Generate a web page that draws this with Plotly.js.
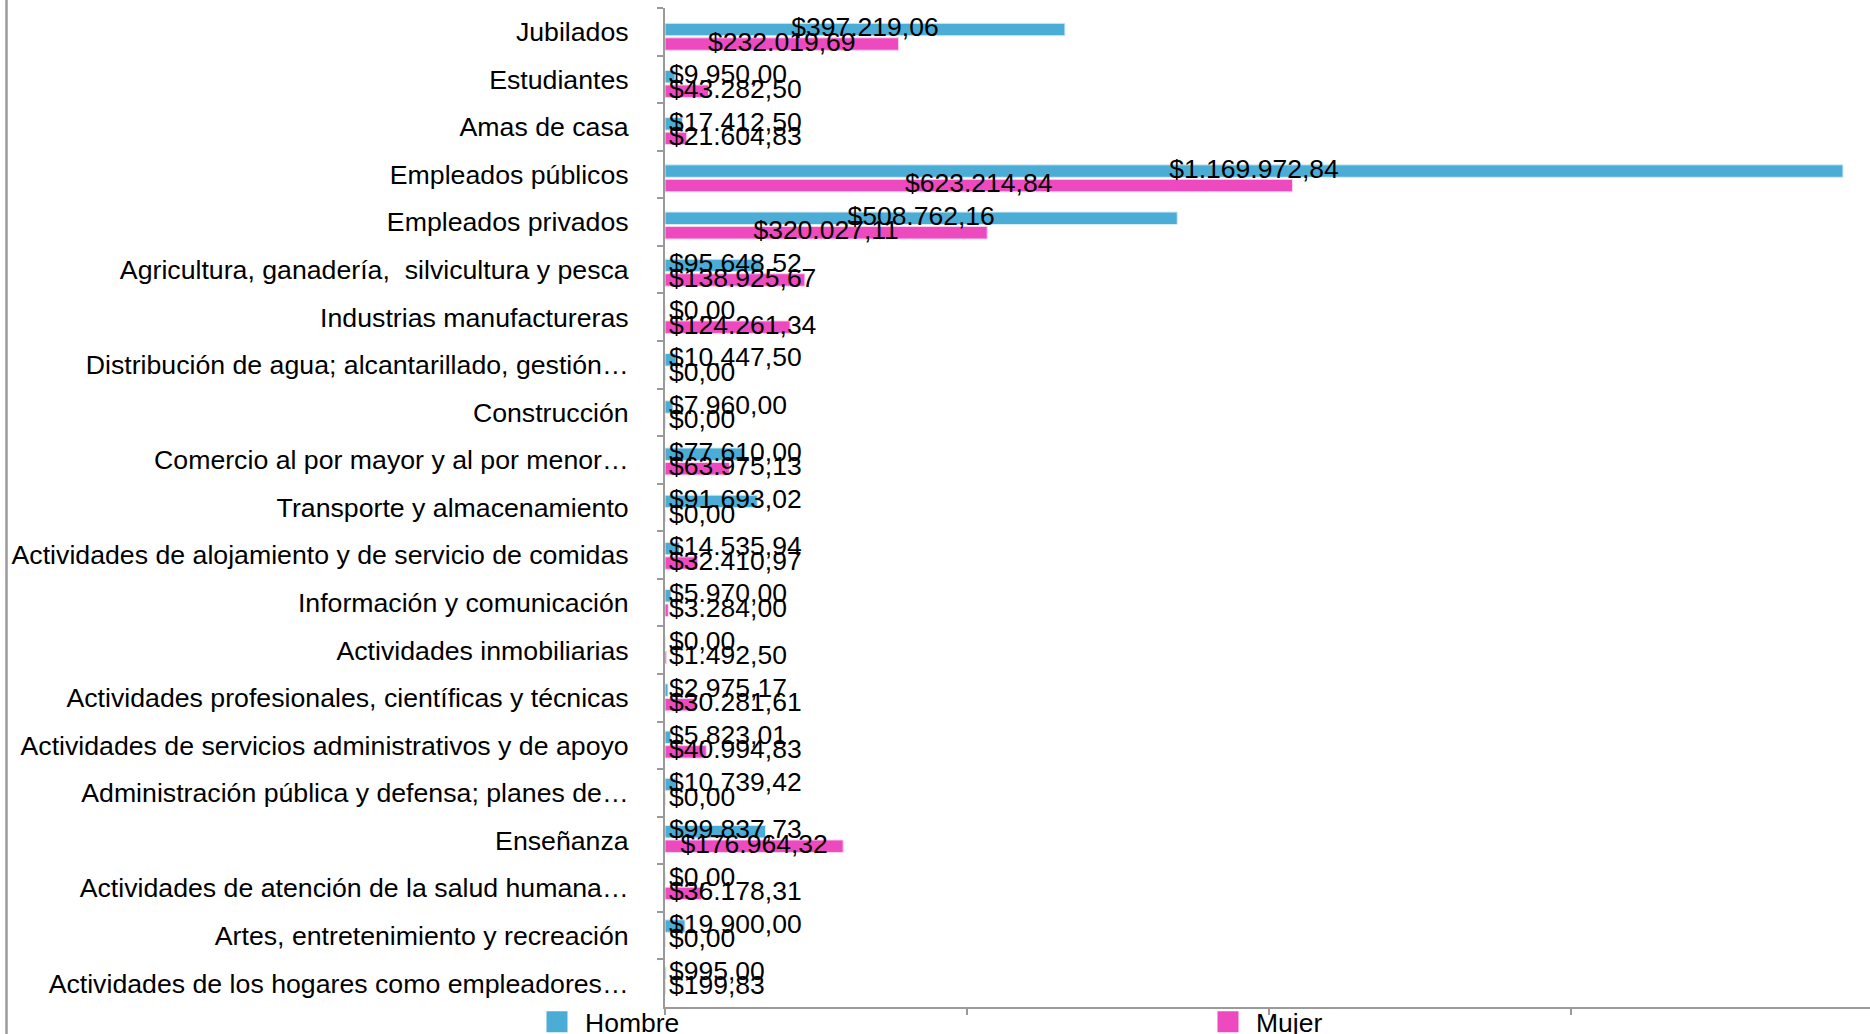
<!DOCTYPE html>
<html><head><meta charset="utf-8">
<script src="https://cdn.plot.ly/plotly-3.0.1.min.js"></script>
<style>html,body{margin:0;padding:0;background:#fff;overflow:hidden;} #chart{width:1870px;height:1034px;}</style>
</head><body><div id="chart"></div>
<script>
const categories = [
  'Jubilados',
  'Estudiantes',
  'Amas de casa',
  'Empleados públicos',
  'Empleados privados',
  'Agricultura, ganadería,  silvicultura y pesca',
  'Industrias manufactureras',
  'Distribución de agua; alcantarillado, gestión…',
  'Construcción',
  'Comercio al por mayor y al por menor…',
  'Transporte y almacenamiento',
  'Actividades de alojamiento y de servicio de comidas',
  'Información y comunicación',
  'Actividades inmobiliarias',
  'Actividades profesionales, científicas y técnicas',
  'Actividades de servicios administrativos y de apoyo',
  'Administración pública y defensa; planes de…',
  'Enseñanza',
  'Actividades de atención de la salud humana…',
  'Artes, entretenimiento y recreación',
  'Actividades de los hogares como empleadores…'
];
const hombre = [397219.06, 9950.00, 17412.50, 1169972.84, 508762.16, 95648.52, 0, 10447.50, 7960.00, 77610.00, 91693.02, 14535.94, 5970.00, 0, 2975.17, 5823.01, 10739.42, 99837.73, 0, 19900.00, 995.00];
const mujer = [232019.69, 43282.50, 21604.83, 623214.84, 320027.11, 138925.67, 124261.34, 0, 0, 63975.13, 0, 32410.97, 3284.00, 1492.50, 30281.61, 40994.83, 0, 176964.32, 36178.31, 0, 199.83];
const seriesNames = ['Hombre', 'Mujer'];
const xTickValues = [0, 300000, 600000, 900000, 1200000];

const W = 1870, H = 1034;
const M = {l: 665, r: 0, t: 8, b: 27};
const X_MAX = 1196800;
const BARGAP = 0.385, GROUPGAP = 0.14;
const BAR_RANGE = [20.561, -0.6096];
const FONT = '"Liberation Sans", Arial, Helvetica, sans-serif';
const FS = 26.5, FS_CAT = 26.7;
const COLORS = ['#4BACD6', '#EE4ABF'];
const EDGE = ['#d6edf7', '#fbd3ef'];
const AXIS = '#9a9a9a';

function fmt(v) {
  const parts = v.toFixed(2).split('.');
  return '$' + parts[0].replace(/\B(?=(\d{3})+(?!\d))/g, '.') + ',' + parts[1];
}

const ctx = document.createElement('canvas').getContext('2d');
ctx.font = FS + 'px "Liberation Sans"';
const pxPerUnit = (W - M.l - M.r) / X_MAX;
function labelX(v) {
  const tw = ctx.measureText(fmt(v)).width;
  return Math.max(v * pxPerUnit / 2, tw / 2 + 4) / pxPerUnit;
}

const n = categories.length;
const idx = categories.map((c, i) => i);
const slot = (1 - BARGAP) / 2;
const series = [hombre, mujer];

const traces = [];
series.forEach((vals, k) => {
  traces.push({
    type: 'bar', orientation: 'h', y: categories, x: vals, name: seriesNames[k],
    marker: {color: COLORS[k], line: {color: EDGE[k], width: 1}},
    showlegend: false, hoverinfo: 'skip'
  });
});
series.forEach((vals, k) => {
  traces.push({
    type: 'scatter', mode: 'text', yaxis: 'y3',
    x: vals.map(labelX), y: idx.map(i => i + (k - 0.5) * slot),
    text: vals.map(fmt), textposition: 'middle center',
    textfont: {family: FONT, size: FS, color: '#000'},
    cliponaxis: false, showlegend: false, hoverinfo: 'skip'
  });
});
// legend entries; they also carry the category list for the labelled axis
series.forEach((vals, k) => {
  traces.push({
    type: 'scatter', mode: 'markers', yaxis: 'y2',
    x: categories.map(() => null), y: categories,
    name: seriesNames[k],
    marker: {symbol: 'square', size: 16, color: COLORS[k], line: {color: COLORS[k], width: 5}},
    showlegend: true, hoverinfo: 'skip'
  });
});

const layout = {
  width: W, height: H,
  margin: {l: M.l, r: M.r, t: M.t, b: M.b, autoexpand: false},
  paper_bgcolor: '#fff', plot_bgcolor: '#fff',
  font: {family: FONT, size: FS, color: '#000'},
  barmode: 'group', bargap: BARGAP, bargroupgap: GROUPGAP,
  showlegend: true,
  legend: {
    orientation: 'h', x: (529 - 665) / 1205, xanchor: 'left', y: -0.015, yanchor: 'middle',
    font: {family: FONT, size: FS, color: '#000'},
    entrywidth: 610, entrywidthmode: 'pixels', itemsizing: 'trace', itemwidth: 46,
    bgcolor: 'rgba(0,0,0,0)', borderwidth: 0
  },
  xaxis: {
    range: [0, X_MAX], tickvals: xTickValues, ticks: 'outside', ticklen: 6, tickwidth: 2,
    tickcolor: AXIS, showticklabels: false, showline: true, linecolor: AXIS, linewidth: 2,
    showgrid: false, zeroline: false, fixedrange: true
  },
  yaxis: {
    type: 'category', categoryorder: 'array', categoryarray: categories,
    range: BAR_RANGE, visible: false, fixedrange: true
  },
  yaxis2: {
    type: 'category', overlaying: 'y', side: 'left', categoryorder: 'array', categoryarray: categories,
    range: [n - 0.5, -0.5], tickson: 'boundaries', ticks: 'outside',
    ticklen: 6, tickwidth: 2, tickcolor: AXIS, showline: true, linecolor: AXIS, linewidth: 2,
    showgrid: false, zeroline: false, tickfont: {family: FONT, size: FS_CAT, color: '#000'},
    ticklabelstandoff: 29, fixedrange: true
  },
  yaxis3: {overlaying: 'y', range: BAR_RANGE, visible: false, fixedrange: true},
  shapes: [{
    type: 'line', xref: 'paper', yref: 'paper', xsizemode: 'pixel', xanchor: 0,
    x0: -658.5, x1: -658.5, y0: -0.1, y1: 1.1, line: {color: AXIS, width: 2.5}
  }],
  hovermode: false
};

Plotly.newPlot('chart', traces, layout, {staticPlot: true, displayModeBar: false});
</script>
</body></html>
